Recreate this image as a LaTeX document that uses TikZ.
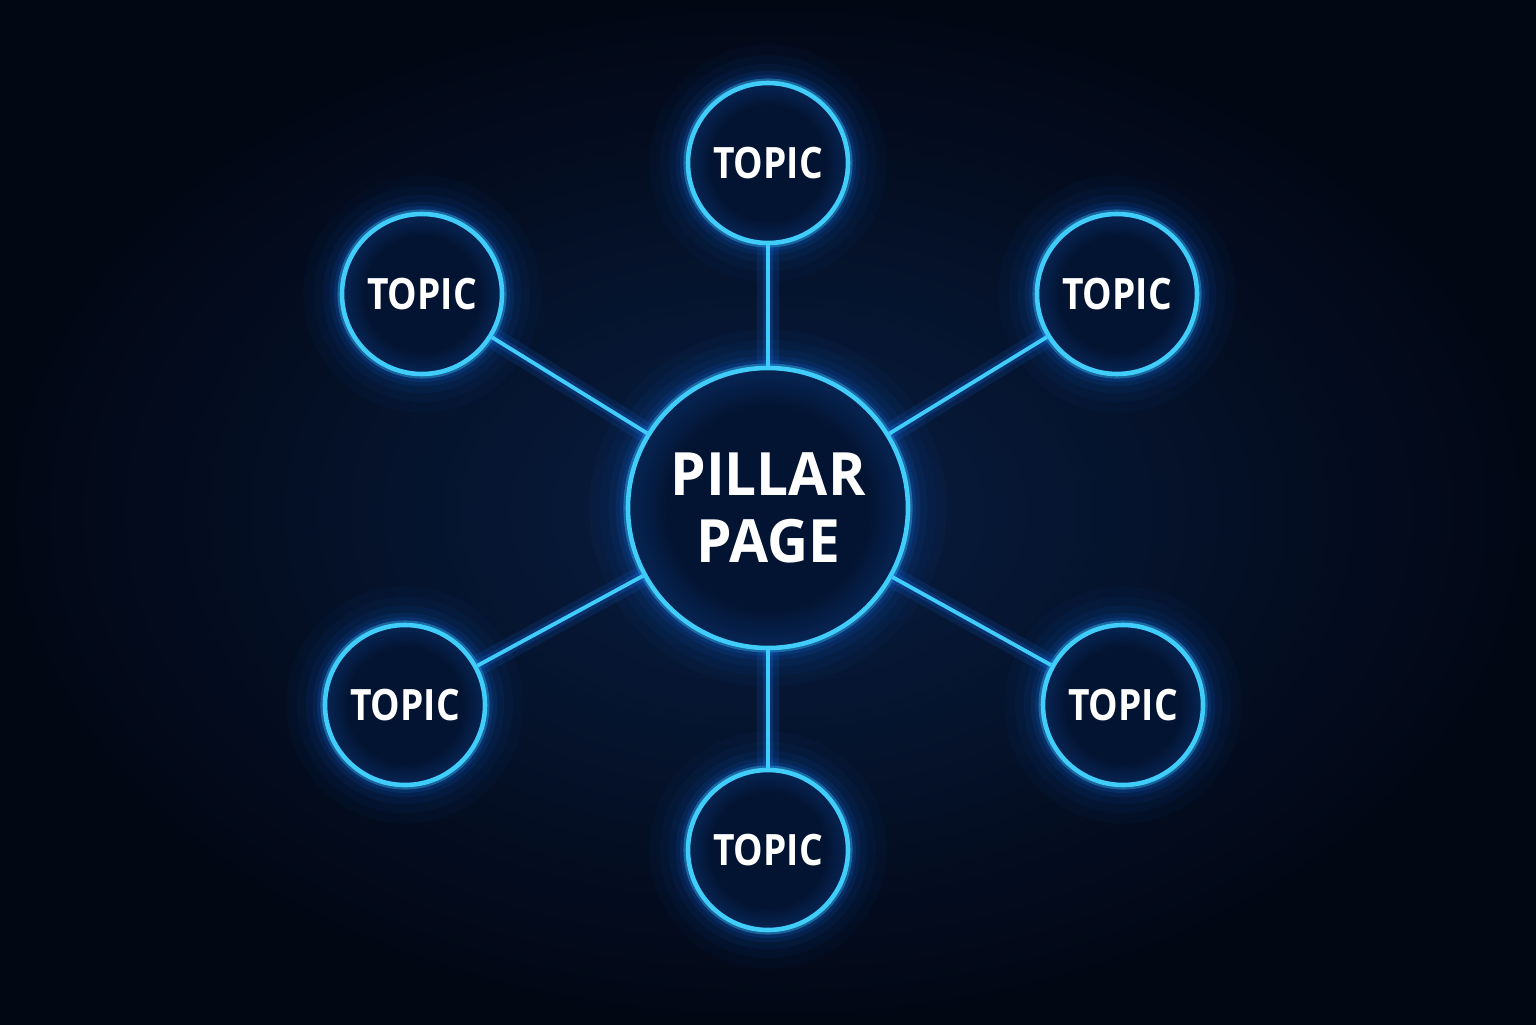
\documentclass[tikz,border=0pt]{standalone}
\usepackage{fontspec}
\setmainfont{Open Sans}
\newfontfamily\pillarfont{Open Sans}[FakeStretch=0.95]
\newfontfamily\topicfont{Open Sans}[FakeStretch=0.86]
\usetikzlibrary{positioning}
\definecolor{bgin}{RGB}{8,30,66}
\definecolor{bgout}{RGB}{2,7,20}
\definecolor{discin}{RGB}{3,20,50}
\definecolor{discout}{RGB}{12,60,130}
\definecolor{rim}{RGB}{64,205,250}
\definecolor{glowblue}{RGB}{20,120,255}
\pgfdeclareradialshading{disc}{\pgfpoint{0bp}{0bp}}{color(0bp)=(discin); color(18bp)=(discin); color(34bp)=(discout); color(50bp)=(discout)}
\tikzset{
  glow/.style={preaction={draw=glowblue, draw opacity=.035, line width=22pt},
               preaction={draw=glowblue, draw opacity=.045, line width=16pt},
               preaction={draw=glowblue, draw opacity=.06, line width=11pt},
               preaction={draw=glowblue, draw opacity=.09, line width=7pt},
               preaction={draw=glowblue, draw opacity=.14, line width=4.5pt},
               preaction={draw=rim, draw opacity=.35, line width=2.6pt}},
  pillar/.style={circle, glow, shading=disc, draw=rim, line width=1.3pt, minimum size=2.8cm,
                 inner sep=0pt, align=center, text=white, font=\pillarfont\fontsize{17}{19}\selectfont\bfseries},
  topic/.style={pillar, minimum size=1.6cm, font=\topicfont\fontsize{12.3}{14}\selectfont\bfseries},
  link/.style={draw=rim, line width=1.1pt, preaction={draw=glowblue, draw opacity=.12, line width=6pt},
               preaction={draw=glowblue, draw opacity=.2, line width=3pt}}
}
\begin{document}
\begin{tikzpicture}
    \useasboundingbox (0,0) rectangle (15.36,10.24);
    \shade[inner color=bgin, outer color=bgout] (0,0) rectangle (15.36,10.24);

    \node[pillar] (pillar) at (7.68,5.16) {PILLAR\\PAGE};
    \foreach \n/\x/\y in {t/7.68/8.61, tl/4.22/7.30, tr/11.17/7.30, bl/4.05/3.19, br/11.23/3.19, b/7.68/1.74}
        \node[topic] (\n) at (\x,\y) {TOPIC};

    \foreach \n in {t, tl, tr, bl, br, b}
        \draw[link] (pillar) -- (\n);
\end{tikzpicture}
\end{document}
